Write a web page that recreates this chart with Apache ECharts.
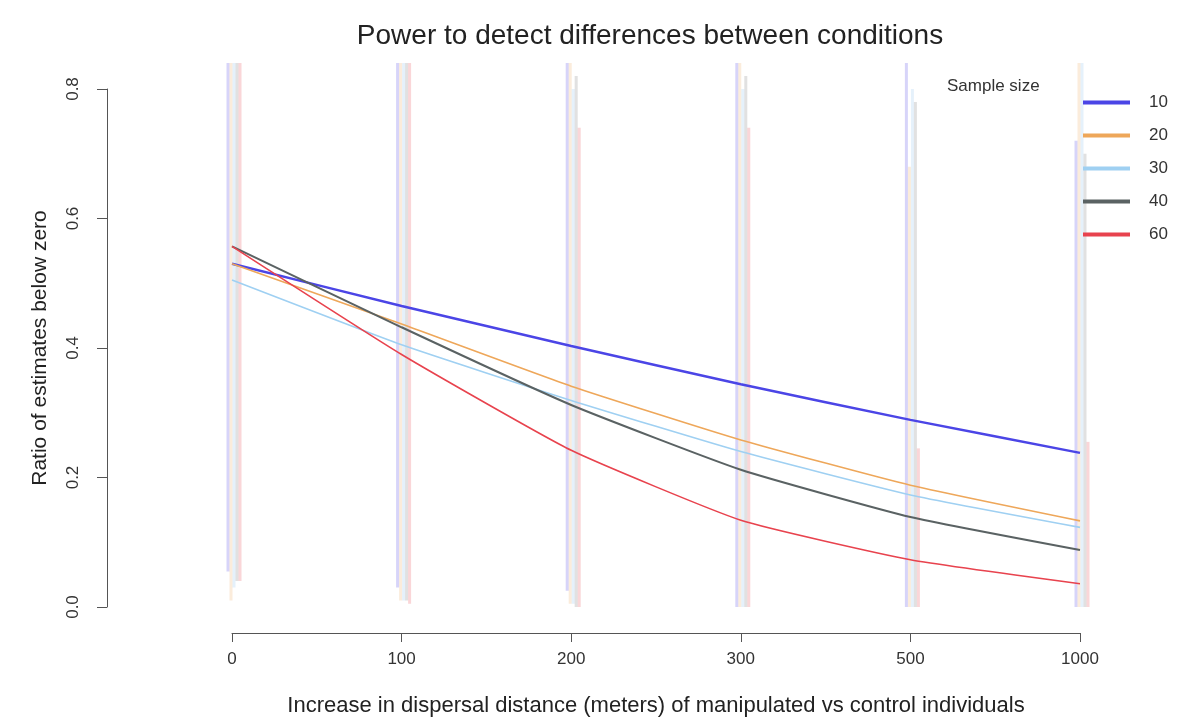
<!DOCTYPE html>
<html>
<head>
<meta charset="utf-8">
<script src="https://cdn.jsdelivr.net/npm/echarts@6/dist/echarts.min.js"></script>
<style>html,body{margin:0;padding:0;background:#fff;}#c{width:1188px;height:724px;}</style>
</head>
<body>
<div id="c"></div>
<script>
// ---- data ----
const categories = ['0', '100', '200', '300', '500', '1000'];
const sampleSizes = ['10', '20', '30', '40', '60'];
const ratio10 = [0.530, 0.465, 0.403, 0.344, 0.289, 0.238];
const ratio20 = [0.530, 0.437, 0.341, 0.258, 0.188, 0.133];
const ratio30 = [0.505, 0.405, 0.319, 0.240, 0.173, 0.123];
const ratio40 = [0.557, 0.432, 0.312, 0.212, 0.139, 0.088];
const ratio60 = [0.557, 0.390, 0.242, 0.134, 0.073, 0.036];
// error bar ranges (upper ends are cut at the top of the plot region)
const low10 = [0.055, 0.030, 0.025, 0.000, 0.000, 0.000];
const high10 = [0.84, 0.84, 0.84, 0.84, 0.84, 0.72];
const low20 = [0.010, 0.010, 0.005, 0.000, 0.000, 0.000];
const high20 = [0.84, 0.84, 0.84, 0.84, 0.68, 0.84];
const low30 = [0.030, 0.010, 0.005, 0.000, 0.000, 0.000];
const high30 = [0.84, 0.84, 0.80, 0.80, 0.80, 0.84];
const low40 = [0.040, 0.010, 0.000, 0.000, 0.000, 0.000];
const high40 = [0.84, 0.84, 0.82, 0.82, 0.78, 0.70];
const low60 = [0.040, 0.005, 0.000, 0.000, 0.000, 0.000];
const high60 = [0.84, 0.84, 0.74, 0.74, 0.245, 0.255];
const yTicks = [0, 0.2, 0.4, 0.6, 0.8];

// ---- styles ----
const lineColors = ['#4b45e6', '#eea75a', '#9fd0f2', '#5a6263', '#e8434e'];
const barColors = ['rgba(110,100,235,0.28)', 'rgba(238,167,90,0.22)', 'rgba(150,200,240,0.25)', 'rgba(120,120,120,0.22)', 'rgba(232,67,78,0.22)'];
const lineWidths = [2.5, 1.6, 1.6, 2, 1.6];
const barOffsets = [-4, -1, 2, 5, 8];

const ratios = [ratio10, ratio20, ratio30, ratio40, ratio60];
const lows = [low10, low20, low30, low40, low60];
const highs = [high10, high20, high30, high40, high60];

const series = [];
sampleSizes.forEach((s, i) => {
  series.push({
    name: 'ci' + s,
    type: 'custom',
    z: 1,
    silent: true,
    data: categories.map((c, k) => [k, lows[i][k], highs[i][k]]),
    renderItem: (params, api) => {
      const p1 = api.coord([api.value(0), api.value(1)]);
      const p2 = api.coord([api.value(0), api.value(2)]);
      const x = p1[0] + barOffsets[i];
      return {
        type: 'line',
        shape: { x1: x, y1: p1[1], x2: x, y2: p2[1] },
        style: { stroke: barColors[i], lineWidth: 3 }
      };
    }
  });
});
sampleSizes.forEach((s, i) => {
  series.push({
    name: s,
    type: 'line',
    z: 3,
    data: ratios[i],
    smooth: 0.15,
    showSymbol: false,
    color: lineColors[i],
    lineStyle: { width: lineWidths[i], color: lineColors[i] }
  });
});

const FONT = 'Liberation Sans, Arial, sans-serif';
const chart = echarts.init(document.getElementById('c'));
chart.setOption({
  backgroundColor: '#fff',
  animation: false,
  textStyle: { fontFamily: FONT },
  title: [
    {
      text: 'Power to detect differences between conditions',
      left: 645, top: 17, textAlign: 'center',
      textStyle: { fontSize: 28, fontWeight: 'normal', color: '#222', fontFamily: FONT }
    },
    {
      text: 'Sample size',
      left: 942, top: 73,
      textStyle: { fontSize: 17, fontWeight: 'normal', color: '#333', fontFamily: FONT }
    }
  ],
  legend: {
    data: sampleSizes,
    orient: 'vertical',
    left: 1083, top: 94,
    padding: 0,
    icon: 'rect',
    itemWidth: 47, itemHeight: 4,
    itemGap: 16,
    textStyle: { fontSize: 17, lineHeight: 16, color: '#333', padding: [0, 0, 0, 14], fontFamily: FONT }
  },
  grid: { left: 232, right: 108, top: 89, bottom: 117, containLabel: false },
  xAxis: {
    type: 'category',
    data: categories,
    boundaryGap: false,
    offset: 26,
    name: 'Increase in dispersal distance (meters) of manipulated vs control individuals',
    nameLocation: 'middle',
    nameGap: 62,
    nameTextStyle: { fontSize: 22, color: '#222', fontFamily: FONT },
    axisLine: { onZero: false, lineStyle: { color: '#555', width: 1 } },
    axisTick: { alignWithLabel: true, length: 9, lineStyle: { color: '#555' } },
    axisLabel: { fontSize: 17, color: '#333', margin: 18, fontFamily: FONT },
    splitLine: { show: false }
  },
  yAxis: {
    type: 'value',
    min: 0, max: 0.8, interval: 0.2,
    offset: 125,
    name: 'Ratio of estimates below zero',
    nameLocation: 'middle',
    nameGap: 56,
    nameRotate: 90,
    nameTextStyle: { fontSize: 21, color: '#222', fontFamily: FONT },
    axisLine: { show: true, onZero: false, lineStyle: { color: '#555', width: 1 } },
    axisTick: { show: true, length: 10, lineStyle: { color: '#555' } },
    axisLabel: { rotate: 90, fontSize: 17, color: '#333', margin: 25, fontFamily: FONT,
      formatter: v => yTicks.includes(Math.round(v * 10) / 10) ? v.toFixed(1) : '' },
    splitLine: { show: false }
  },
  series: series
});
</script>
</body>
</html>
